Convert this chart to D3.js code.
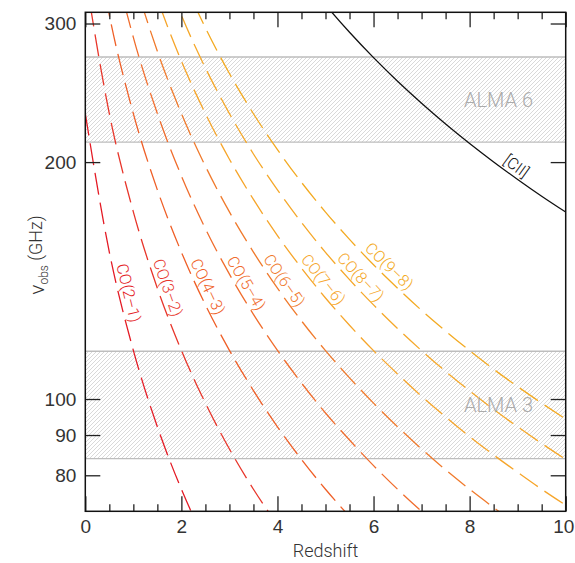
<!DOCTYPE html>
<html><head><meta charset="utf-8">
<script src="https://cdn.jsdelivr.net/npm/d3@7"></script>
<style>body{margin:0;background:#fff}svg{display:block;font-family:Roboto,"Helvetica Neue",Arial,sans-serif}</style>
</head><body><svg id="c" width="575" height="563"></svg>
<script>
// ---------- data ----------
const redshiftGrid = [0,0.5,1,1.5,2,2.5,3,3.5,4,4.5,5,5.5,6,6.5,7,7.5,8,8.5,9,9.5,10];
const lineNames = ["CO(2–1)","CO(3–2)","CO(4–3)","CO(5–4)","CO(6–5)","CO(7–6)","CO(8–7)","CO(9–8)"];
// observed frequency (GHz) at each grid redshift
const co21 = [230.5,153.7,115.3,92.2,76.8,65.9];
const co32 = [345.8,230.5,172.9,138.3,115.3,98.8,86.4,76.8,69.2];
const co43 = [461.0,307.4,230.5,184.4,153.7,131.7,115.3,102.5,92.2,83.8,76.8,70.9];
const co54 = [576.3,384.2,288.1,230.5,192.1,164.6,144.1,128.1,115.3,104.8,96.0,88.7,82.3,76.8,72.0,67.8];
const co65 = [691.5,461.0,345.7,276.6,230.5,197.6,172.9,153.7,138.3,125.7,115.2,106.4,98.8,92.2,86.4,81.3,76.8,72.8,69.1];
const co76 = [806.7,537.8,403.3,322.7,268.9,230.5,201.7,179.3,161.3,146.7,134.4,124.1,115.2,107.6,100.8,94.9,89.6,84.9,80.7,76.8,73.3];
const co87 = [921.8,614.5,460.9,368.7,307.3,263.4,230.5,204.8,184.4,167.6,153.6,141.8,131.7,122.9,115.2,108.4,102.4,97.0,92.2,87.8,83.8];
const co98 = [1036.9,691.3,518.5,414.8,345.6,296.3,259.2,230.4,207.4,188.5,172.8,159.5,148.1,138.3,129.6,122.0,115.2,109.1,103.7,98.8,94.3];
const cii  = [1900.5,1267.0,950.3,760.2,633.5,543.0,475.1,422.3,380.1,345.6,316.8,292.4,271.5,253.4,237.6,223.6,211.2,200.1,190.1,181.0,172.8];
const coSeries = [co21,co32,co43,co54,co65,co76,co87,co98];
const labelRedshifts = [0.70,1.52,2.36,3.17,3.97,4.79,5.58,6.18];
const ciiName = "[CII]";
const ciiLabelRedshift = 8.85;
const bandNames = ["ALMA 6","ALMA 3"];
const bandLow  = [212, 84];
const bandHigh = [272, 115];
const xMajorTicks = [0,2,4,6,8,10];
const xMinorTicks = [0.5,1,1.5,2.5,3,3.5,4.5,5,5.5,6.5,7,7.5,8.5,9,9.5];
const yTicks = [80,90,100,200,300];
const xDomain = [0,10];
const yDomain = [72,310];

// ---------- styles ----------
const lineColors = ["#e41b25","#e8362b","#ef5f27","#f06d2d","#f07a2c","#f6a52a","#f5a82a","#f3aa22"];

// ---------- layout ----------
const L = 85.3, R = 565.7, T = 12.3, B = 511.3;
const svg = d3.select("#c");
const x = d3.scaleLinear().domain(xDomain).range([L, R]);
const y = d3.scaleLog().domain(yDomain).range([B, T]);

const defs = svg.append("defs");
defs.append("clipPath").attr("id","plot").append("rect")
  .attr("x",L).attr("y",T).attr("width",R-L).attr("height",B-T);
const pat = defs.append("pattern").attr("id","hatch").attr("patternUnits","userSpaceOnUse")
  .attr("width",4).attr("height",4);
pat.append("path").attr("d","M-1,1 l2,-2 M0,4 l4,-4 M3,5 l2,-2")
  .attr("stroke","#c9c9c9").attr("stroke-width",0.7).attr("fill","none");

const plot = svg.append("g").attr("clip-path","url(#plot)");

// bands
bandNames.forEach((name,i)=>{
  plot.append("rect").attr("x",L).attr("width",R-L)
    .attr("y",y(bandHigh[i])).attr("height",y(bandLow[i])-y(bandHigh[i]))
    .attr("fill","url(#hatch)");
  [bandLow[i],bandHigh[i]].forEach(v=>{
    plot.append("line").attr("x1",L).attr("x2",R).attr("y1",y(v)).attr("y2",y(v))
      .attr("stroke","#bdbdbd").attr("stroke-width",1.3);
  });
  svg.append("text").attr("x",533).attr("y",(y(bandLow[i])+y(bandHigh[i]))/2)
    .attr("dy","0.36em").attr("text-anchor","end").attr("font-size",20).attr("font-weight",300)
    .attr("fill","#ababab").text(name);
});

const lineGen = d3.line().x(d=>x(d[0])).y(d=>y(d[1])).curve(d3.curveMonotoneX);

function placeLabel(pathNode, zLab, text, color, size){
  const tx = x(zLab);
  let lo = 0, hi = pathNode.getTotalLength();
  for (let k=0;k<50;k++){ const mid=(lo+hi)/2; if (pathNode.getPointAtLength(mid).x < tx) lo=mid; else hi=mid; }
  const p = pathNode.getPointAtLength(lo);
  const p1 = pathNode.getPointAtLength(Math.max(0,lo-3)), p2 = pathNode.getPointAtLength(lo+3);
  const ang = Math.atan2(p2.y-p1.y, p2.x-p1.x)*180/Math.PI;
  svg.append("text").attr("transform",`translate(${p.x},${p.y}) rotate(${ang})`)
    .attr("dy",-4.5).attr("text-anchor","middle").attr("font-size",size).attr("font-weight",300)
    .attr("fill",color).text(text);
}

coSeries.forEach((vals,i)=>{
  const pts = vals.map((v,j)=>[redshiftGrid[j], v]);
  const path = plot.append("path").attr("d",lineGen(pts)).attr("fill","none")
    .attr("stroke",lineColors[i]).attr("stroke-width",1.3).attr("stroke-dasharray","22,8");
  placeLabel(path.node(), labelRedshifts[i], lineNames[i], lineColors[i], 16);
});
{
  const pts = cii.map((v,j)=>[redshiftGrid[j], v]);
  const path = plot.append("path").attr("d",lineGen(pts)).attr("fill","none")
    .attr("stroke","#111").attr("stroke-width",1.3);
  placeLabel(path.node(), ciiLabelRedshift, ciiName, "#111", 16);
}

// axes
const tickStroke = g=>{ g.select(".domain").remove(); g.selectAll("line").attr("stroke","#222").attr("stroke-width",1.3); };
svg.append("g").attr("transform",`translate(0,${B})`)
  .call(d3.axisBottom(x).tickValues(xMajorTicks).tickSize(-15).tickPadding(8).tickFormat(d3.format("d")))
  .call(tickStroke)
  .call(g=>g.selectAll("text").attr("font-size",19).attr("font-weight",300).attr("fill","#333").attr("font-family",null)
    .attr("dx",d=>d===xDomain[1]?-2.5:0));
svg.append("g").attr("transform",`translate(0,${B})`)
  .call(d3.axisBottom(x).tickValues(xMinorTicks).tickSize(-7).tickFormat("")).call(tickStroke);
svg.append("g").attr("transform",`translate(0,${T})`)
  .call(d3.axisTop(x).tickValues(xMajorTicks).tickSize(-15).tickFormat("")).call(tickStroke);
svg.append("g").attr("transform",`translate(0,${T})`)
  .call(d3.axisTop(x).tickValues(xMinorTicks).tickSize(-7).tickFormat("")).call(tickStroke);
svg.append("g").attr("transform",`translate(${L},0)`)
  .call(d3.axisLeft(y).tickValues(yTicks).tickSize(-15).tickPadding(9).tickFormat(d3.format("d")))
  .call(tickStroke)
  .call(g=>g.selectAll("text").attr("font-size",19).attr("font-weight",300).attr("fill","#333").attr("font-family",null));
svg.append("g").attr("transform",`translate(${R},0)`)
  .call(d3.axisRight(y).tickValues(yTicks).tickSize(-15).tickFormat("")).call(tickStroke);

svg.append("rect").attr("x",L).attr("y",T).attr("width",R-L).attr("height",B-T)
  .attr("fill","none").attr("stroke","#111").attr("stroke-width",1.5);

// axis titles
svg.append("text").attr("x",(L+R)/2).attr("y",557).attr("text-anchor","middle")
  .attr("font-size",18).attr("font-weight",300).attr("fill","#333").text("Redshift");
const yl = svg.append("text").attr("transform",`translate(44,255) rotate(-90)`)
  .attr("text-anchor","middle").attr("font-size",18).attr("font-weight",300).attr("fill","#333");
yl.append("tspan").attr("font-size",21).text("ν");
yl.append("tspan").attr("font-size",12).attr("dy","0.35em").text("obs");
yl.append("tspan").attr("dy","-0.35em").text(" (GHz)");
</script></body></html>
